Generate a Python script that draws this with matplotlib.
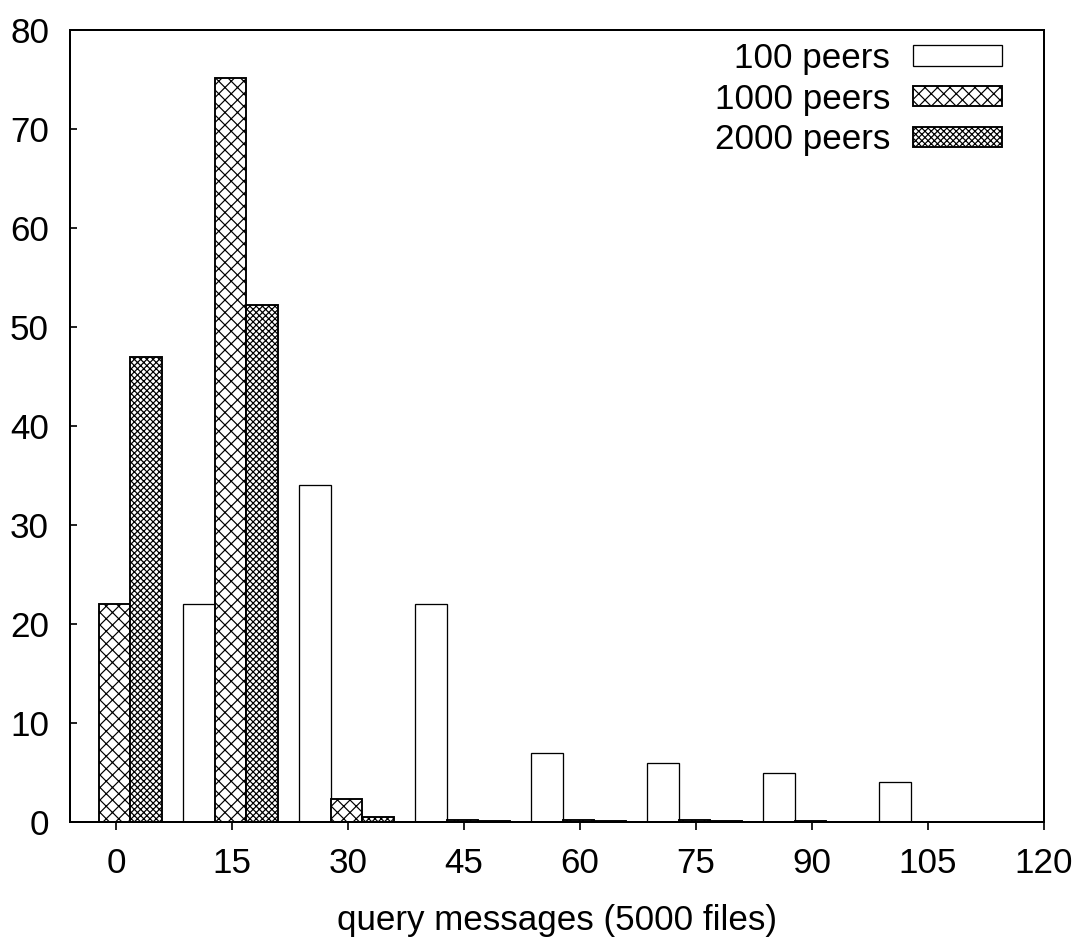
import numpy as np
import matplotlib
matplotlib.use('Agg')
import matplotlib.pyplot as plt

dpi = 150

def pt(px):
    # pixel size -> points at the save dpi
    return px * 72.0 / dpi

plt.rcParams['font.family'] = ['Liberation Sans', 'DejaVu Sans']
plt.rcParams['hatch.linewidth'] = pt(1.2)

groups = [0, 15, 30, 45, 60, 75, 90, 105]
peers100 = [0, 22, 34, 22, 7, 6, 5, 4]
peers1000 = [22, 75.2, 2.3, 0.25, 0.2, 0.25, 0.12, 0.04]
peers2000 = [47, 52.2, 0.5, 0.08, 0.08, 0.1, 0.0, 0.0]
labels = ['100 peers', '1000 peers', '2000 peers']

xticks = [0, 15, 30, 45, 60, 75, 90, 105, 120]
yticks = [0, 10, 20, 30, 40, 50, 60, 70, 80]

fs = pt(35)

fig = plt.figure(figsize=(1081 / dpi, 943 / dpi), dpi=dpi)
ax = fig.add_axes([70 / 1081, 1 - 822 / 943, (1044 - 70) / 1081, (822 - 30) / 943])

x = np.array(groups, dtype=float) - 0.2
w = 4.1
ax.bar(x - w, peers100, w, color='white', edgecolor='black', linewidth=pt(1.3), label=labels[0])
ax.bar(x, peers1000, w, color='white', edgecolor='black', linewidth=pt(1.9), hatch='xxxx', label=labels[1])
ax.bar(x + w, peers2000, w, color='white', edgecolor='black', linewidth=pt(1.9), hatch='xxxxxxxx', label=labels[2])

ax.set_xlim(-5.95, 120)
ax.set_ylim(0, 80)
ax.set_xticks(xticks)
ax.set_yticks(yticks)
ax.tick_params(axis='x', direction='out', length=pt(8), width=pt(1.7), labelsize=fs, pad=pt(17))
ax.tick_params(axis='y', direction='in', length=pt(7), width=pt(1.7), labelsize=fs, pad=pt(21))
for s in ax.spines.values():
    s.set_linewidth(pt(2))

ax.set_xlabel('query messages (5000 files)', fontsize=fs, labelpad=pt(24))

leg = ax.legend(loc='upper right', frameon=False, markerfirst=False, fontsize=fs,
                handlelength=2.55, handleheight=0.52, handletextpad=0.64,
                labelspacing=0.22, borderpad=0, borderaxespad=0)
leg.set_bbox_to_anchor((1002 / 1081, 1 - 42 / 943), transform=fig.transFigure)

fig.savefig('out.png', dpi=dpi)
